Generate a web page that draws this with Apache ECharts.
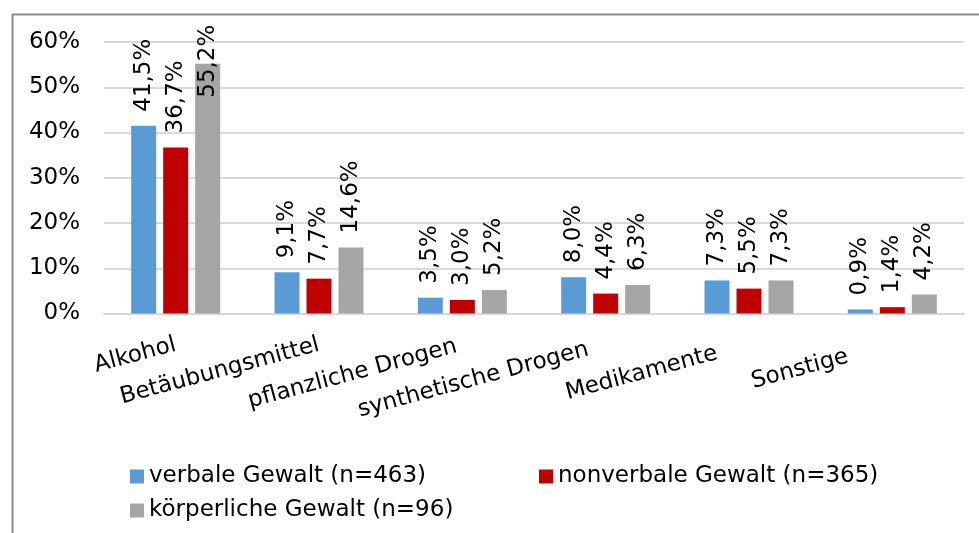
<!DOCTYPE html>
<html><head><meta charset="utf-8">
<script src="https://cdn.jsdelivr.net/npm/echarts@6/dist/echarts.min.js"></script>
<style>html,body{margin:0;padding:0;background:#fff}#c{width:979px;height:533px}</style>
</head><body><div id="c"></div>
<script>
const categories = ['Alkohol','Betäubungsmittel','pflanzliche Drogen','synthetische Drogen','Medikamente','Sonstige'];
const seriesNames = ['verbale Gewalt (n=463)','nonverbale Gewalt (n=365)','körperliche Gewalt (n=96)'];
const verbal = [41.5, 9.1, 3.5, 8.0, 7.3, 0.9];
const nonverbal = [36.7, 7.7, 3.0, 4.4, 5.5, 1.4];
const koerperlich = [55.2, 14.6, 5.2, 6.3, 7.3, 4.2];
const yTicks = [0,10,20,30,40,50,60];

const FONT = 'DejaVu Sans';
const colors = ['#5b9bd5','#c00000','#a5a5a5'];
// per-category label shift (styling only)
const catShift = [0,0,6,19,34,48];
const catData = categories.map((c,i)=>{
  const d = catShift[i], r = Math.PI/12;
  return {value:c, textStyle:{padding:[0, Math.round(d*Math.cos(r)), Math.round(2*d*Math.sin(r)), 0]}};
});
const fmt = v => v.toFixed(1).replace('.', ',') + '%';
const labelBase = {show:true, position:'top', rotate:90, align:'left', verticalAlign:'middle', distance:14,
  fontFamily:FONT, fontSize:23, color:'#000', formatter:p=>fmt(p.value)};
function mk(name, vals, color){
  return {name, type:'bar', barWidth:25, barGap:'28%', itemStyle:{color}, label:labelBase,
    data: vals.map(v=>{
      const o = {value:v};
      if (v > 50) o.label = {offset:[-48,0]};
      return o;
    })};
}
const legText = {fontFamily:FONT, fontSize:23, color:'#000'};
const chart = echarts.init(document.getElementById('c'));
chart.setOption({
  animation:false,
  color:colors,
  graphic:[{type:'rect', left:10, top:12, shape:{width:1000,height:600}, style:{fill:'none', stroke:'#8c8c8c', lineWidth:2}}],
  grid:{left:104, right:15, top:42, bottom:219.5},
  legend:[
    {data:[seriesNames[0]], left:130, top:465, icon:'rect', itemWidth:14, itemHeight:14, textStyle:legText, padding:0},
    {data:[seriesNames[1]], left:539, top:465, icon:'rect', itemWidth:14, itemHeight:14, textStyle:legText, padding:0},
    {data:[seriesNames[2]], left:130, top:499, icon:'rect', itemWidth:14, itemHeight:14, textStyle:legText, padding:0}
  ],
  xAxis:{type:'category', data:catData, axisTick:{show:false},
    axisLine:{lineStyle:{color:'#d9d9d9', width:2}},
    axisLabel:{rotate:15, margin:31, interval:0, fontFamily:FONT, fontSize:23, color:'#000'}},
  yAxis:{type:'value', min:yTicks[0], max:yTicks[yTicks.length-1], interval:10,
    axisLine:{show:false}, axisTick:{show:false},
    splitLine:{lineStyle:{color:'#d9d9d9', width:2}},
    axisLabel:{formatter:'{value}%', margin:24, fontFamily:FONT, fontSize:23, color:'#000'}},
  series:[mk(seriesNames[0], verbal, colors[0]), mk(seriesNames[1], nonverbal, colors[1]), mk(seriesNames[2], koerperlich, colors[2])]
});
</script></body></html>
